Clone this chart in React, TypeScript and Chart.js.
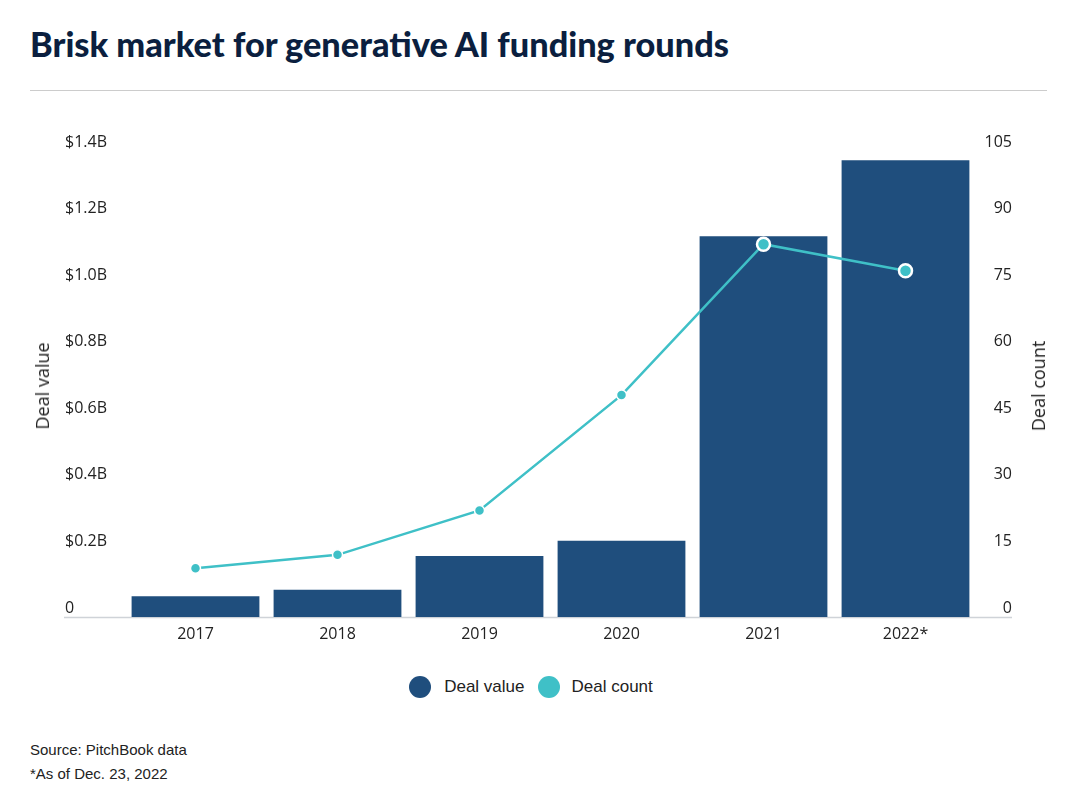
import React, { useEffect, useRef } from "react";
import { Chart, registerables } from "chart.js";

Chart.register(...registerables);

const categories = ["2017", "2018", "2019", "2020", "2021", "2022*"];
const dealValue = [0.062, 0.082, 0.183, 0.229, 1.144, 1.372];
const dealCount = [11, 14, 24, 50, 84, 78];
const leftTicks = [0, 0.2, 0.4, 0.6, 0.8, 1.0, 1.2, 1.4];
const rightTicks = [0, 15, 30, 45, 60, 75, 90, 105];

const NAVY = "#1f4e7d";
const TEAL = "#3fc0c7";
const TICK_FONT = "'Open Sans', 'Noto Sans', sans-serif";

const fmtLeft = (v: number) => (v === 0 ? "0" : `$${v.toFixed(1)}B`);

const baselinePlugin = {
  id: "baseline",
  beforeDatasetsDraw(chart: any) {
    const { ctx, chartArea } = chart;
    ctx.save();
    ctx.strokeStyle = "#cfd3d8";
    ctx.lineWidth = 1.5;
    ctx.beginPath();
    ctx.moveTo(64, chartArea.bottom + 0.5);
    ctx.lineTo(1012, chartArea.bottom + 0.5);
    ctx.stroke();
    ctx.restore();
  },
};

export default function App() {
  const ref = useRef<HTMLCanvasElement>(null);

  useEffect(() => {
    document.body.style.margin = "0";
    const canvas = ref.current!;
    const chart = new Chart(canvas, {
      type: "bar",
      data: {
        labels: categories,
        datasets: [
          {
            type: "line",
            label: "Deal count",
            data: dealCount,
            yAxisID: "y1",
            borderColor: TEAL,
            backgroundColor: TEAL,
            borderWidth: 2.5,
            pointRadius: [5, 5, 5, 5, 6.5, 6.5],
            pointBorderWidth: [1.5, 1.5, 1.5, 1.5, 2.5, 2.5],
            pointBorderColor: "#ffffff",
            pointBackgroundColor: TEAL,
            tension: 0,
            order: 0,
          } as any,
          {
            type: "bar",
            label: "Deal value",
            data: dealValue,
            yAxisID: "y",
            backgroundColor: NAVY,
            borderWidth: 0,
            categoryPercentage: 1.0,
            barPercentage: 0.9,
            order: 1,
          },
        ],
      },
      options: {
        animation: false,
        responsive: false,
        maintainAspectRatio: false,
        layout: { padding: { left: 65, right: 68, top: 41, bottom: 0 } },
        plugins: {
          legend: { display: false },
          tooltip: { enabled: false },
        },
        scales: {
          x: {
            grid: { display: false, drawTicks: false },
            border: { display: false },
            ticks: {
              padding: 8,
              color: "#222222",
              font: { family: TICK_FONT, size: 16 },
            },
            afterFit: (s: any) => {
              s.height = 33;
            },
          },
          y: {
            position: "left",
            min: 0,
            max: 1.4,
            grid: { display: false, drawTicks: false },
            border: { display: false },
            afterBuildTicks: (s: any) => {
              s.ticks = leftTicks.map((v) => ({ value: v }));
            },
            afterFit: (s: any) => {
              s.width = 59.5;
            },
            ticks: {
              crossAlign: "far",
              labelOffset: -9,
              padding: 0,
              color: "#222222",
              font: { family: TICK_FONT, size: 16 },
              callback: (v: any) => fmtLeft(Number(v)),
            },
          },
          y1: {
            position: "right",
            min: 0,
            max: 105,
            grid: { display: false, drawTicks: false },
            border: { display: false },
            afterBuildTicks: (s: any) => {
              s.ticks = rightTicks.map((v) => ({ value: v }));
            },
            afterFit: (s: any) => {
              s.width = 35.5;
            },
            ticks: {
              crossAlign: "far",
              labelOffset: -9,
              padding: 0,
              color: "#222222",
              font: { family: TICK_FONT, size: 16 },
              callback: (v: any) => String(v),
            },
          },
        },
      },
      plugins: [baselinePlugin],
    });
    return () => chart.destroy();
  }, []);

  const footerFont = "'Liberation Sans', Arial, sans-serif";

  return (
    <div style={{ position: "relative", width: 1080, height: 787, background: "#fff", overflow: "hidden" }}>
      <div
        style={{
          position: "absolute",
          left: 30,
          top: 22,
          fontFamily: "Lato, sans-serif",
          fontWeight: 900,
          fontSize: 34.3,
          color: "#0b1f3f",
          whiteSpace: "nowrap",
          lineHeight: "44px",
        }}
      >
        Brisk market for generative AI funding rounds
      </div>
      <div style={{ position: "absolute", left: 30, top: 90, width: 1017, height: 1, background: "#cccccc" }} />
      <canvas ref={ref} width={1080} height={540} style={{ position: "absolute", left: 0, top: 110, width: 1080, height: 540 }} />
      <div
        style={{
          position: "absolute",
          left: 42,
          top: 386,
          transform: "translate(-50%, -50%) rotate(-90deg)",
          fontFamily: TICK_FONT,
          fontSize: 18,
          color: "#222222",
          whiteSpace: "nowrap",
        }}
      >
        Deal value
      </div>
      <div
        style={{
          position: "absolute",
          left: 1038,
          top: 386,
          transform: "translate(-50%, -50%) rotate(-90deg)",
          fontFamily: TICK_FONT,
          fontSize: 18,
          color: "#222222",
          whiteSpace: "nowrap",
        }}
      >
        Deal count
      </div>
      <div
        style={{
          position: "absolute",
          left: -9,
          width: 1080,
          top: 675,
          display: "flex",
          justifyContent: "center",
          alignItems: "center",
          fontFamily: footerFont,
          fontSize: 17,
          color: "#222",
          lineHeight: "24px",
        }}
      >
        <span style={{ display: "inline-block", width: 22, height: 22, borderRadius: 11, background: NAVY, marginRight: 13 }} />
        <span style={{ marginRight: 13 }}>Deal value</span>
        <span style={{ display: "inline-block", width: 22, height: 22, borderRadius: 11, background: TEAL, marginRight: 12 }} />
        <span>Deal count</span>
      </div>
      <div
        style={{
          position: "absolute",
          left: 30,
          top: 738,
          fontFamily: footerFont,
          fontSize: 15,
          color: "#222",
          lineHeight: "24px",
        }}
      >
        <div>Source: PitchBook data</div>
        <div>*As of Dec. 23, 2022</div>
      </div>
    </div>
  );
}
